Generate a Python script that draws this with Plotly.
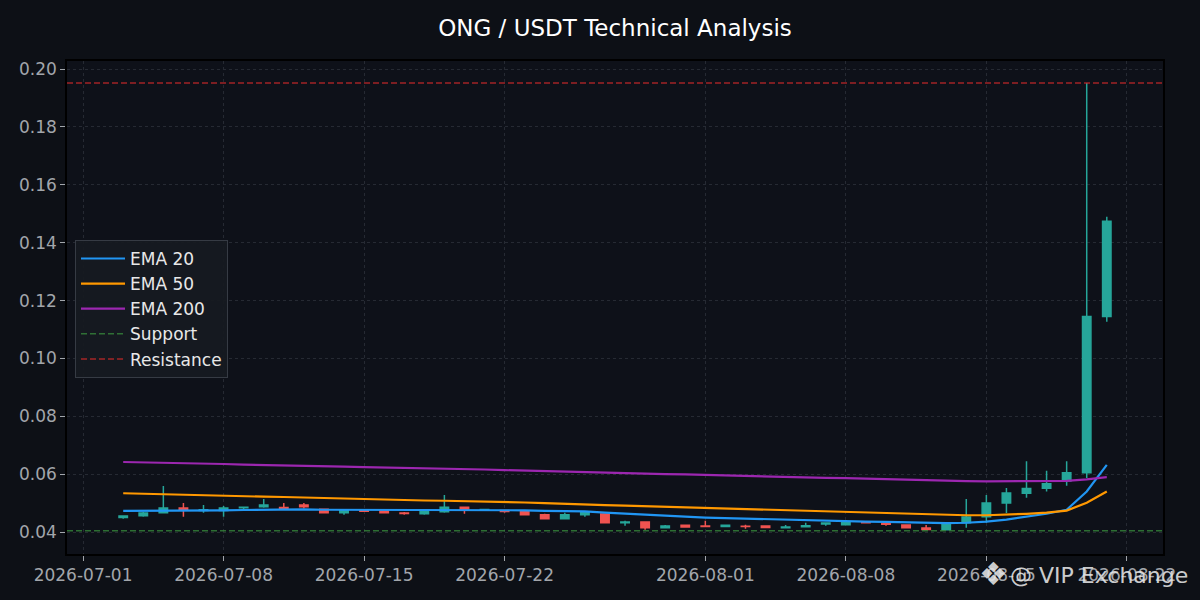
import pandas as pd
import plotly.graph_objects as go

# daily candles ONG/USDT
dates = pd.date_range("2026-07-03", "2026-08-21", freq="D")

opens = [0.0450, 0.0456, 0.0467, 0.0483, 0.0474, 0.0474, 0.0484, 0.0487, 0.0485, 0.0493,
         0.0479, 0.0467, 0.0475, 0.0473, 0.0466, 0.0463, 0.0470, 0.0486, 0.0476, 0.0474,
         0.0472, 0.0460, 0.0446, 0.0460, 0.0462, 0.0432, 0.0435, 0.0415, 0.0423, 0.0421,
         0.0419, 0.0420, 0.0421, 0.0415, 0.0418, 0.0428, 0.0425, 0.0434, 0.0430, 0.0424,
         0.0414, 0.0408, 0.0432, 0.0453, 0.0500, 0.0534, 0.0551, 0.0576, 0.0605, 0.1145]
highs = [0.0456, 0.0469, 0.0559, 0.0500, 0.0493, 0.0490, 0.0487, 0.0514, 0.0500, 0.0500,
         0.0481, 0.0478, 0.0476, 0.0474, 0.0469, 0.0479, 0.0528, 0.0487, 0.0479, 0.0475,
         0.0473, 0.0463, 0.0467, 0.0470, 0.0463, 0.0439, 0.0436, 0.0424, 0.0424, 0.0439,
         0.0424, 0.0425, 0.0421, 0.0424, 0.0432, 0.0432, 0.0436, 0.0435, 0.0431, 0.0425,
         0.0424, 0.0430, 0.0514, 0.0528, 0.0552, 0.0645, 0.0612, 0.0645, 0.1952, 0.1490]
lows = [0.0446, 0.0453, 0.0466, 0.0453, 0.0467, 0.0453, 0.0477, 0.0484, 0.0478, 0.0481,
        0.0464, 0.0460, 0.0470, 0.0466, 0.0460, 0.0460, 0.0467, 0.0463, 0.0473, 0.0467,
        0.0459, 0.0445, 0.0445, 0.0453, 0.0431, 0.0422, 0.0408, 0.0412, 0.0415, 0.0418,
        0.0418, 0.0411, 0.0415, 0.0414, 0.0418, 0.0422, 0.0425, 0.0431, 0.0422, 0.0412,
        0.0408, 0.0407, 0.0415, 0.0432, 0.0466, 0.0518, 0.0540, 0.0560, 0.0587, 0.1127]
closes = [0.0455, 0.0466, 0.0483, 0.0476, 0.0477, 0.0483, 0.0486, 0.0493, 0.0482, 0.0487,
          0.0467, 0.0476, 0.0472, 0.0467, 0.0464, 0.0470, 0.0486, 0.0478, 0.0478, 0.0471,
          0.0460, 0.0446, 0.0460, 0.0468, 0.0432, 0.0435, 0.0415, 0.0421, 0.0417, 0.0419,
          0.0423, 0.0419, 0.0416, 0.0417, 0.0422, 0.0431, 0.0435, 0.0432, 0.0427, 0.0415,
          0.0409, 0.0429, 0.0452, 0.0500, 0.0535, 0.0550, 0.0567, 0.0605, 0.1145, 0.1474]

ema20 = [0.0473, 0.0473, 0.0474, 0.0474, 0.0474, 0.0475, 0.0476, 0.0477, 0.0477, 0.0478,
         0.0477, 0.0477, 0.0477, 0.0476, 0.0476, 0.0476, 0.0477, 0.0477, 0.0477, 0.0476,
         0.0475, 0.0473, 0.0472, 0.0471, 0.0467, 0.0463, 0.0459, 0.0456, 0.0453, 0.0450,
         0.0448, 0.0446, 0.0444, 0.0442, 0.0440, 0.0439, 0.0437, 0.0436, 0.0435, 0.0433,
         0.0431, 0.0431, 0.0432, 0.0436, 0.0443, 0.0452, 0.0463, 0.0477, 0.0540, 0.0632]
ema50 = [0.0534, 0.0532, 0.0531, 0.0529, 0.0527, 0.0526, 0.0524, 0.0522, 0.0521, 0.0519,
         0.0517, 0.0516, 0.0514, 0.0512, 0.0511, 0.0509, 0.0508, 0.0507, 0.0505, 0.0504,
         0.0502, 0.0500, 0.0497, 0.0495, 0.0493, 0.0491, 0.0489, 0.0486, 0.0484, 0.0482,
         0.0480, 0.0479, 0.0477, 0.0475, 0.0473, 0.0472, 0.0470, 0.0468, 0.0466, 0.0464,
         0.0462, 0.0460, 0.0458, 0.0458, 0.0460, 0.0463, 0.0467, 0.0474, 0.0501, 0.0540]
ema200 = [0.0642, 0.0641, 0.0639, 0.0638, 0.0636, 0.0635, 0.0633, 0.0632, 0.0630, 0.0629,
          0.0627, 0.0626, 0.0624, 0.0623, 0.0621, 0.0620, 0.0619, 0.0617, 0.0616, 0.0614,
          0.0612, 0.0611, 0.0609, 0.0607, 0.0605, 0.0604, 0.0602, 0.0600, 0.0599, 0.0597,
          0.0595, 0.0594, 0.0592, 0.0591, 0.0589, 0.0587, 0.0586, 0.0584, 0.0582, 0.0581,
          0.0579, 0.0578, 0.0576, 0.0575, 0.0575, 0.0575, 0.0575, 0.0577, 0.0582, 0.0590]

support = 0.0404
resistance = 0.1952

tick_dates = ["2026-07-01", "2026-07-08", "2026-07-15", "2026-07-22",
              "2026-08-01", "2026-08-08", "2026-08-15", "2026-08-22"]
y_ticks = [0.04, 0.06, 0.08, 0.10, 0.12, 0.14, 0.16, 0.18, 0.20]

x_range = ["2026-06-30 04:48", "2026-08-23 19:12"]
y_range = [0.0324, 0.2028]

BG = "#0d1016"
GRID = "#262a33"
TXT = "#a2a6ab"
FONT = "DejaVu Sans"

fig = go.Figure()

fig.add_trace(go.Candlestick(
    x=dates, open=opens, high=highs, low=lows, close=closes,
    increasing=dict(line=dict(color="#26a69a", width=1.5), fillcolor="#26a69a"),
    decreasing=dict(line=dict(color="#ef5350", width=1.5), fillcolor="#ef5350"),
    whiskerwidth=0, showlegend=False, name="ONG/USDT"))

fig.add_trace(go.Scatter(x=dates, y=ema20, mode="lines", name="EMA 20",
                         line=dict(color="#2196f3", width=2.2)))
fig.add_trace(go.Scatter(x=dates, y=ema50, mode="lines", name="EMA 50",
                         line=dict(color="#ff9800", width=2.2)))
fig.add_trace(go.Scatter(x=dates, y=ema200, mode="lines", name="EMA 200",
                         line=dict(color="#9c27b0", width=2.2)))

# horizontal levels across the whole axis
fig.add_trace(go.Scatter(x=x_range, y=[support, support], mode="lines", name="Support",
                         line=dict(color="rgba(56,142,60,0.75)", width=1.5, dash="6px,3px")))
fig.add_trace(go.Scatter(x=x_range, y=[resistance, resistance], mode="lines", name="Resistance",
                         line=dict(color="rgba(198,40,40,0.8)", width=1.5, dash="6px,3px")))

fig.update_layout(
    width=1200, height=600,
    paper_bgcolor=BG, plot_bgcolor="#0e1119",
    margin=dict(l=67, r=37, t=61, b=46),
    font=dict(family=FONT, color=TXT, size=17),
    title=dict(text="ONG / USDT Technical Analysis", x=0.5, xref="paper",
               y=0.953, yanchor="middle",
               font=dict(family=FONT, size=23, color="#ffffff")),
    boxgap=0.4,
    legend=dict(x=0.0073, y=0.637, xanchor="left", yanchor="top",
                bgcolor="rgba(22,26,33,0.95)", bordercolor="#363b44", borderwidth=1,
                font=dict(family=FONT, size=17, color="#e8e8e8"),
                itemwidth=44, tracegroupgap=2),
    showlegend=True,
)

fig.update_xaxes(
    range=x_range, rangeslider=dict(visible=False),
    tickvals=tick_dates, ticktext=tick_dates,
    showgrid=True, gridcolor=GRID, griddash="dot", gridwidth=1,
    ticks="outside", ticklen=5, tickcolor=TXT,
    showline=True, linecolor="#000000", linewidth=1.5, mirror=True,
    zeroline=False, tickfont=dict(family=FONT, size=17, color=TXT),
)
fig.update_yaxes(
    range=y_range, tickvals=y_ticks, tickformat=".2f",
    showgrid=True, gridcolor=GRID, griddash="dot", gridwidth=1,
    ticks="outside", ticklen=5, tickcolor=TXT,
    showline=True, linecolor="#000000", linewidth=1.5, mirror=True,
    zeroline=False, tickfont=dict(family=FONT, size=17, color=TXT),
)

# watermark: logo + text
fig.add_annotation(text="❖", xref="paper", yref="paper",
                   x=0.845, y=-0.0406, xanchor="center", yanchor="middle",
                   showarrow=False,
                   font=dict(family=FONT, size=32, color="rgba(230,230,230,0.9)"))
fig.add_annotation(text="@ VIP Exchange", xref="paper", yref="paper",
                   x=1.0246, y=-0.0426, xanchor="right", yanchor="middle",
                   showarrow=False,
                   font=dict(family=FONT, size=22, color="rgba(230,230,230,0.9)"))

# page has a default 8px body margin; drop it so the figure sits at 0,0
fig.write_html("out.html", config={"displayModeBar": False},
               post_script="document.body.style.margin='0';"
                           "document.body.style.background='#0d1016';")
